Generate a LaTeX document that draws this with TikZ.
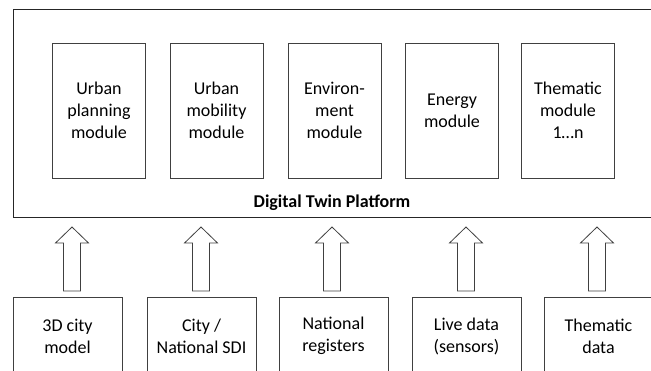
\documentclass[tikz,border=0pt]{standalone}
\usepackage{fontspec}
\setmainfont{Carlito}
\begin{document}
\begin{tikzpicture}[x=1pt,y=-1pt,
  box/.style={draw=black!75,line width=0.9pt},
  modbox/.style={box,minimum width=93pt,minimum height=135pt,inner sep=0pt,align=center,font=\fontsize{18}{22}\selectfont},
  srcbox/.style={box},
  lbl/.style={align=center,font=\fontsize{18}{22}\selectfont},
  blockarrow/.style={draw=black!75,line width=0.8pt,fill=white}]
\useasboundingbox (0,0) rectangle (651,370);
\clip (0,0) rectangle (651,370);
% platform
\draw[box,draw=black!85] (13,9) rectangle (670,217);
\node[font=\fontsize{18}{22}\selectfont\bfseries] (plat) at (332,203) {Digital Twin Platform};
% modules
\node[modbox] (m1) at (99,110.5) {Urban\\planning\\module};
\node[modbox] (m2) at (216.5,110.5) {Urban\\mobility\\module};
\node[modbox] (m3) at (334.5,110.5) {Environ-\\ment\\module};
\node[modbox] (m4) at (452,110.5) {Energy\\module};
\node[modbox] (m5) at (568,110.5) {Thematic\\module\\1…n};
% sources
\foreach \i/\xa/\xb/\t in {1/13/122/{3D city\\model},2/147/256/{City /\\National SDI},3/279/388/{National\\registers},4/412/521/{Live data\\(sensors)},5/544/653/{Thematic\\data}}{
  \draw[srcbox] (\xa,297) rectangle (\xb,385);
  \node[lbl] (s\i) at ({(\xa+\xb)/2},336) {\t};
}
% block arrows
\foreach \i/\cx in {1/72,2/201,3/332,4/466,5/597}{
  \coordinate (a\i) at (\cx,291);
  \draw[blockarrow] (\cx-8.5,291) -- (\cx-8.5,243) -- (\cx-16.5,243) -- (\cx,227) -- (\cx+16.5,243) -- (\cx+8.5,243) -- (\cx+8.5,291) -- cycle;
}
\end{tikzpicture}
\end{document}
